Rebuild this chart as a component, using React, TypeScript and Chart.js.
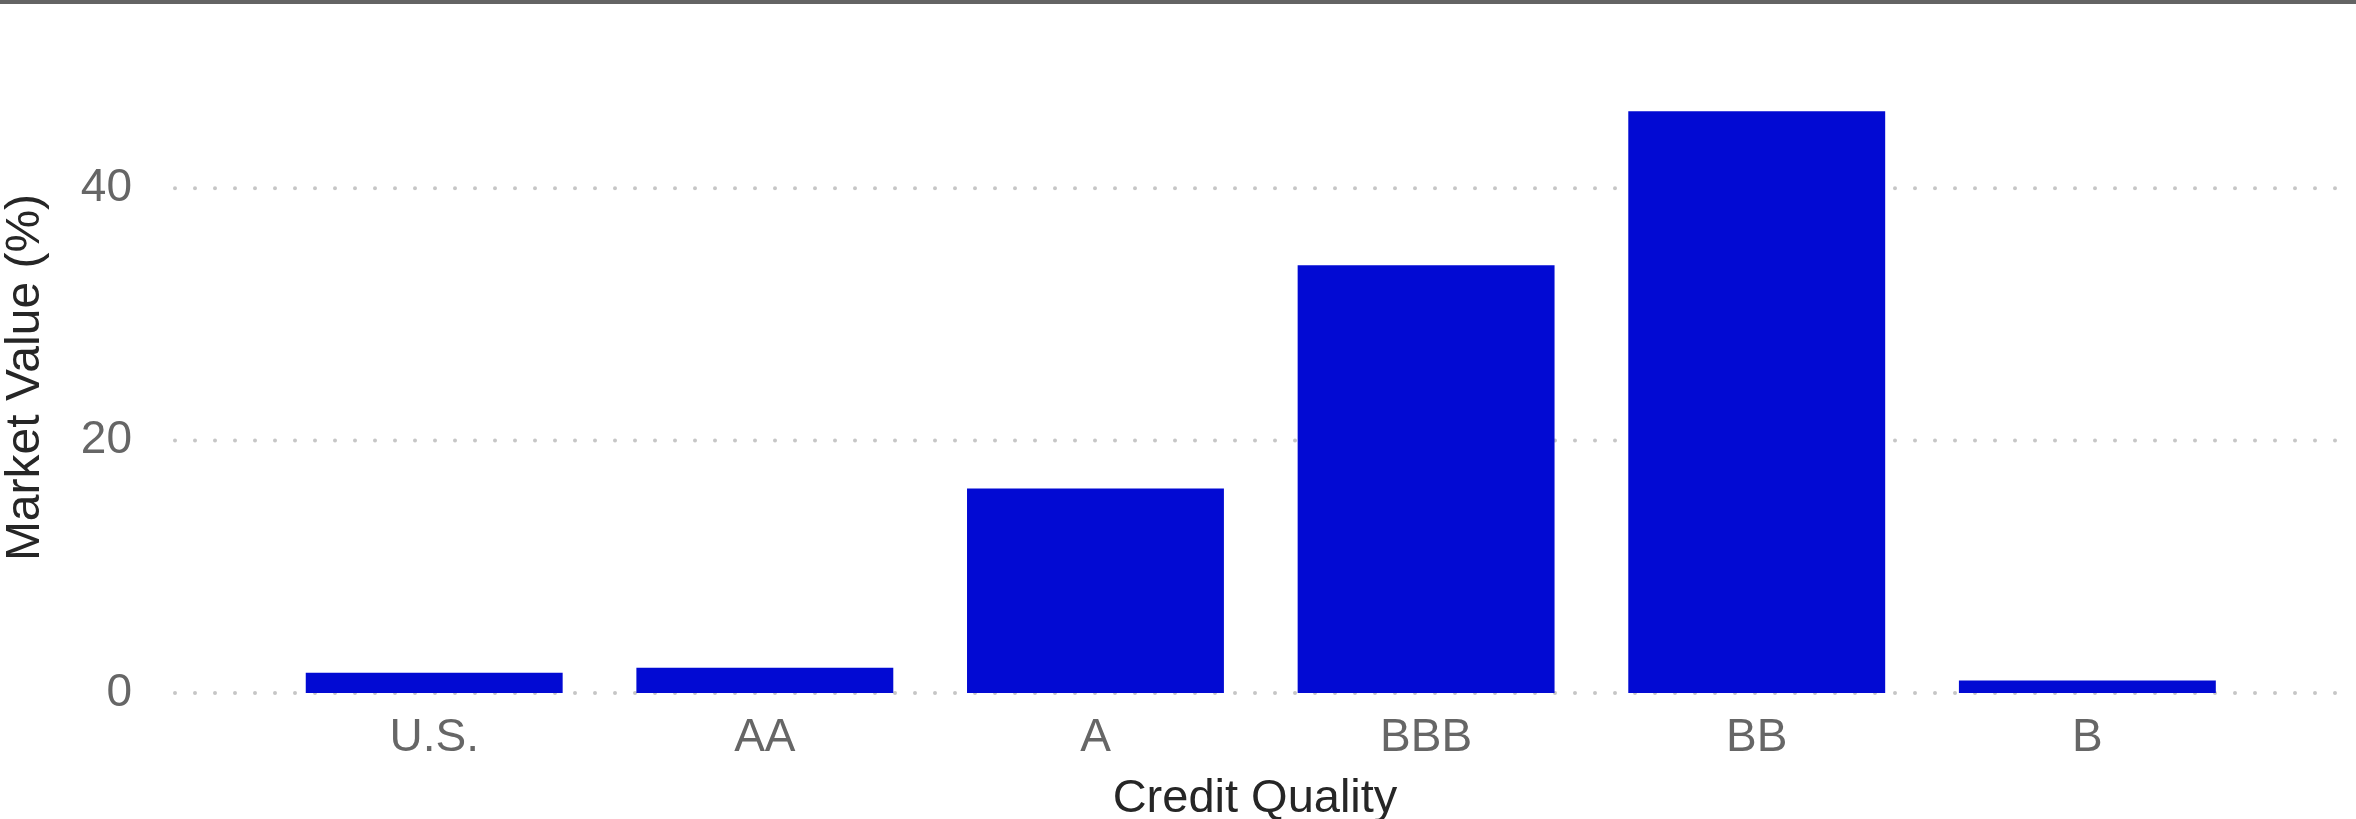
import React, { useEffect, useRef } from 'react';
import { Chart, registerables } from 'chart.js';

Chart.register(...registerables);

const categories = ['U.S.', 'AA', 'A', 'BBB', 'BB', 'B'];
const marketValues = [1.6, 2.0, 16.2, 33.9, 46.1, 1.0];
const yTickValues = [0, 20, 40];
const yTitle = 'Market Value (%)';
const xTitle = 'Credit Quality';

const FONT = '"Liberation Sans", Arial, Helvetica, sans-serif';

const dottedGrid = {
  id: 'dottedGrid',
  beforeDatasetsDraw(chart: any) {
    const { ctx, chartArea, scales } = chart;
    const y = scales.y;
    ctx.save();
    ctx.strokeStyle = '#c6c6c6';
    ctx.lineWidth = 4;
    ctx.lineCap = 'round';
    ctx.setLineDash([0, 20]);
    y.ticks.forEach((t: any) => {
      const py = y.getPixelForValue(t.value);
      ctx.beginPath();
      ctx.moveTo(chartArea.left + 1, py);
      ctx.lineTo(chartArea.right, py);
      ctx.stroke();
    });
    ctx.restore();
  },
};

export default function App() {
  const canvasRef = useRef<HTMLCanvasElement | null>(null);

  useEffect(() => {
    if (!canvasRef.current) return;
    const chart = new Chart(canvasRef.current, {
      type: 'bar',
      data: {
        datasets: [
          {
            data: categories.map((c, i) => ({ x: i, y: marketValues[i] })),
            backgroundColor: '#020AD3',
            borderWidth: 0,
            categoryPercentage: 1,
            barPercentage: 0.777,
          } as any,
        ],
      },
      options: {
        animation: false,
        responsive: false,
        devicePixelRatio: 1,
        layout: { padding: { top: 58, right: 20, left: 0, bottom: 0 } },
        plugins: { legend: { display: false }, tooltip: { enabled: false } },
        scales: {
          x: {
            type: 'linear',
            offset: false,
            min: -0.787,
            max: 5.752,
            grid: { display: false, drawTicks: false },
            border: { display: false },
            afterBuildTicks: (s: any) => {
              s.ticks = categories.map((_, i) => ({ value: i }));
            },
            ticks: {
              autoSkip: false,
              maxRotation: 0,
              minRotation: 0,
              padding: 18,
              color: '#666666',
              font: { family: FONT, size: 46 },
              callback: (v: any) => categories[Math.round(Number(v))] ?? '',
            },
            title: {
              display: true,
              text: xTitle,
              color: '#262626',
              font: { family: FONT, size: 47, lineHeight: 0.85 },
              padding: 0,
            },
            afterFit: (s: any) => {
              s.height = 126;
            },
          },
          y: {
            type: 'linear',
            min: 0,
            max: 50,
            grid: { display: false, drawTicks: false },
            border: { display: false },
            afterBuildTicks: (s: any) => {
              s.ticks = yTickValues.map((v) => ({ value: v }));
            },
            ticks: {
              padding: 42,
              color: '#666666',
              font: { family: FONT, size: 46 },
            },
            title: {
              display: true,
              text: yTitle,
              color: '#262626',
              font: { family: FONT, size: 48, lineHeight: 0.85 },
              padding: { top: 5, bottom: 0 },
            },
            afterFit: (s: any) => {
              s.width = 174;
              s.paddingTop = 0;
              s.paddingBottom = 0;
            },
          },
        },
      } as any,
      plugins: [dottedGrid],
    });
    return () => chart.destroy();
  }, []);

  return (
    <div
      style={{
        position: 'fixed',
        left: 0,
        top: 0,
        width: 2356,
        height: 819,
        boxSizing: 'border-box',
        borderTop: '4px solid #646464',
        background: '#ffffff',
        overflow: 'hidden',
      }}
    >
      <canvas ref={canvasRef} width={2356} height={815} style={{ display: 'block' }} />
    </div>
  );
}
